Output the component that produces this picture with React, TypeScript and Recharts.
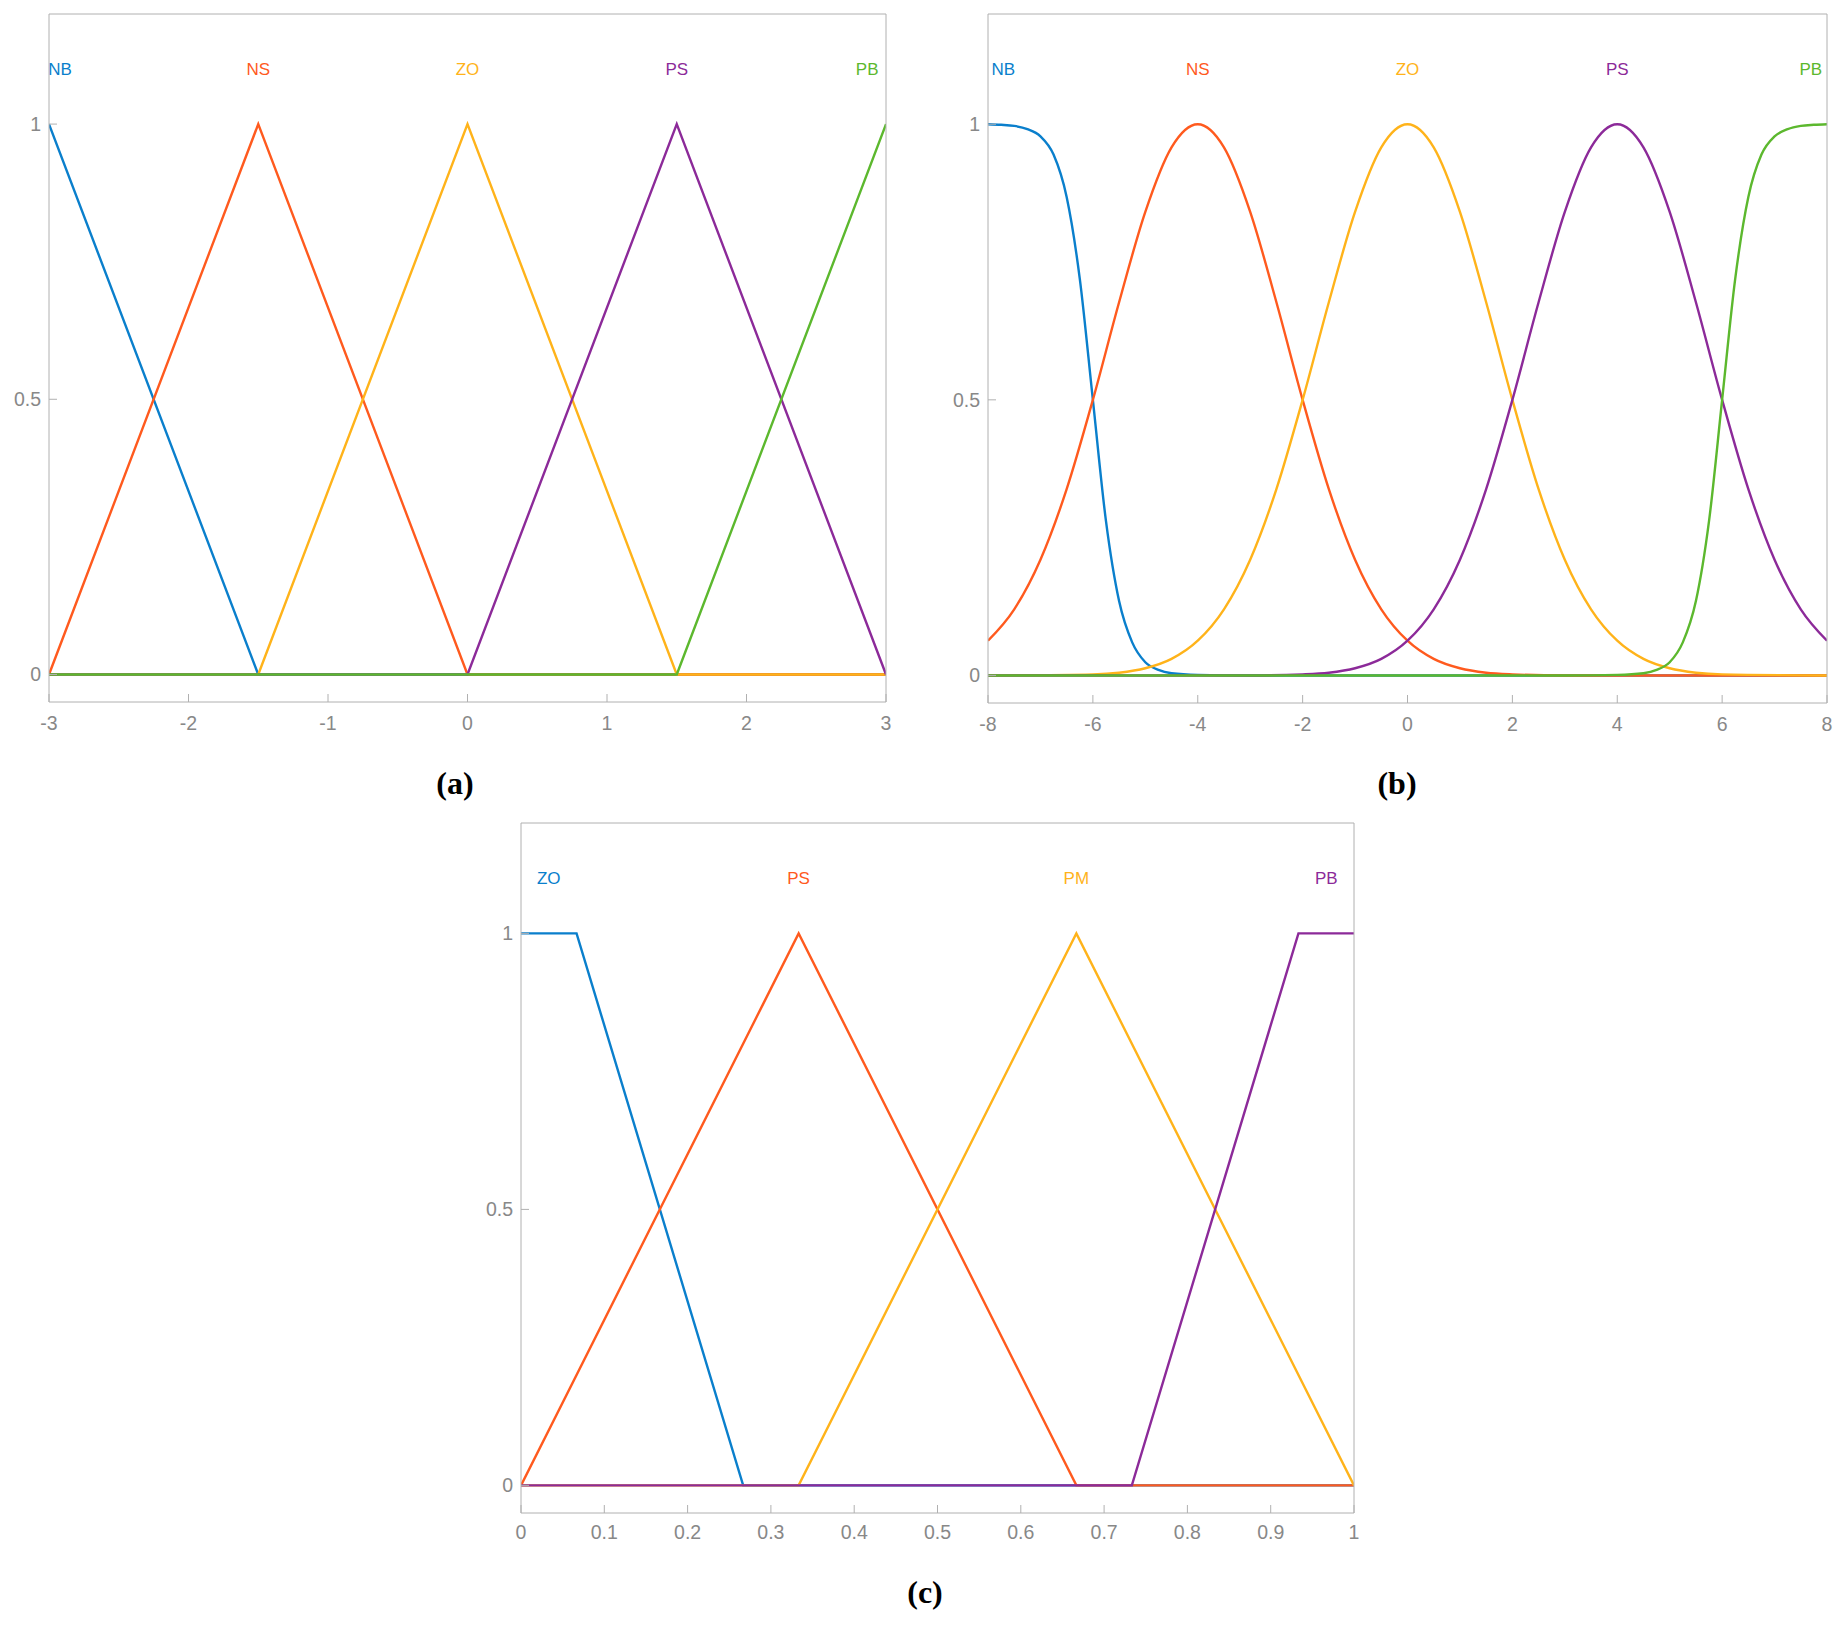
import { LineChart, Line, XAxis, YAxis, ReferenceDot } from 'recharts';

// panel (a): triangular sets on [-3, 3]
const aNames = ['NB', 'NS', 'ZO', 'PS', 'PB'];
const aNB = [[-3, 1], [-1.5, 0], [3, 0]];
const aNS = [[-3, 0], [-1.5, 1], [0, 0], [3, 0]];
const aZO = [[-3, 0], [-1.5, 0], [0, 1], [1.5, 0], [3, 0]];
const aPS = [[-3, 0], [0, 0], [1.5, 1], [3, 0]];
const aPB = [[-3, 0], [1.5, 0], [3, 1]];
const aLabelX = [-2.92, -1.5, 0, 1.5, 2.865];
const aTicks = [-3, -2, -1, 0, 1, 2, 3];

// panel (b): smooth sets on [-8, 8]
const bNames = ['NB', 'NS', 'ZO', 'PS', 'PB'];
const bNB = [[-8, 1], [-7.75, 0.999], [-7.5, 0.997], [-7.25, 0.991], [-7, 0.978], [-6.75, 0.945], [-6.5, 0.868], [-6.25, 0.72], [-6, 0.5], [-5.75, 0.28], [-5.5, 0.135], [-5.25, 0.06], [-5, 0.024], [-4.75, 0.01], [-4.5, 0.004], [-4, 0.001], [-3, 0], [8, 0]];
const bNS = [[-8, 0.063], [-7.5, 0.12], [-7, 0.21], [-6.5, 0.338], [-6, 0.5], [-5.5, 0.677], [-5, 0.841], [-4.5, 0.958], [-4, 1], [-3.5, 0.958], [-3, 0.841], [-2.5, 0.677], [-2, 0.5], [-1.5, 0.338], [-1, 0.21], [-0.5, 0.12], [0, 0.063], [0.5, 0.03], [1, 0.013], [1.5, 0.005], [2, 0.002], [3, 0], [8, 0]];
const bZO = [[-8, 0], [-6, 0.002], [-5.5, 0.005], [-5, 0.013], [-4.5, 0.03], [-4, 0.063], [-3.5, 0.12], [-3, 0.21], [-2.5, 0.338], [-2, 0.5], [-1.5, 0.677], [-1, 0.841], [-0.5, 0.958], [0, 1], [0.5, 0.958], [1, 0.841], [1.5, 0.677], [2, 0.5], [2.5, 0.338], [3, 0.21], [3.5, 0.12], [4, 0.063], [4.5, 0.03], [5, 0.013], [5.5, 0.005], [6, 0.002], [8, 0]];
const bPS = [[-8, 0], [-3, 0], [-2, 0.002], [-1.5, 0.005], [-1, 0.013], [-0.5, 0.03], [0, 0.063], [0.5, 0.12], [1, 0.21], [1.5, 0.338], [2, 0.5], [2.5, 0.677], [3, 0.841], [3.5, 0.958], [4, 1], [4.5, 0.958], [5, 0.841], [5.5, 0.677], [6, 0.5], [6.5, 0.338], [7, 0.21], [7.5, 0.12], [8, 0.063]];
const bPB = [[-8, 0], [3, 0], [4, 0.001], [4.5, 0.004], [4.75, 0.01], [5, 0.024], [5.25, 0.06], [5.5, 0.135], [5.75, 0.28], [6, 0.5], [6.25, 0.72], [6.5, 0.868], [6.75, 0.945], [7, 0.978], [7.25, 0.991], [7.5, 0.997], [7.75, 0.999], [8, 1]];
const bLabelX = [-7.71, -4, 0, 4, 7.69];
const bTicks = [-8, -6, -4, -2, 0, 2, 4, 6, 8];

// panel (c): trapezoid/triangle sets on [0, 1]
const cNames = ['ZO', 'PS', 'PM', 'PB'];
const cZO = [[0, 1], [0.0667, 1], [0.2667, 0], [1, 0]];
const cPS = [[0, 0], [0.3333, 1], [0.6667, 0], [1, 0]];
const cPM = [[0, 0], [0.3333, 0], [0.6667, 1], [1, 0]];
const cPB = [[0, 0], [0.7333, 0], [0.9333, 1], [1, 1]];
const cLabelX = [0.0333, 0.3333, 0.6667, 0.9667];
const cTicks = [0, 0.1, 0.2, 0.3, 0.4, 0.5, 0.6, 0.7, 0.8, 0.9, 1];

const yTicks = [0, 0.5, 1];
const labelY = 1.1;

const COLORS = ['#0a7fcc', '#ff5a1e', '#ffb31a', '#8c2a99', '#5cb82e'];
const AXIS = '#b0b0b0';
const TEXT = '#888888';
// plot area sits 60px from the left and 10px from the top of each svg
const M = { top: 10, right: 20, bottom: 10, left: 10 };
const Y_W = 50;
const X_H = 40;
const TICK_FONT = 19.5;

const toPts = (arr: number[][]) => arr.map(([x, y]) => ({ x, y }));

interface PanelProps {
  left: number;
  top: number;
  plotW: number;
  plotH: number;
  domain: [number, number];
  ticks: number[];
  series: number[][][];
  names: string[];
  labelX: number[];
  colors: string[];
  curve: 'linear' | 'monotone';
  xTickMargin: number;
}

function Panel({ left, top, plotW, plotH, domain, ticks, series, names, labelX, colors, curve, xTickMargin }: PanelProps) {
  return (
    <div style={{ position: 'absolute', left: left - M.left - Y_W, top: top - M.top }}>
      <LineChart width={plotW + M.left + Y_W + M.right} height={plotH + M.top + X_H + M.bottom} margin={M}>
        <XAxis
          dataKey="x"
          type="number"
          domain={domain}
          ticks={ticks}
          interval={0}
          height={X_H}
          tickSize={-8}
          tickMargin={xTickMargin}
          axisLine={{ stroke: AXIS }}
          tickLine={{ stroke: AXIS }}
          tick={{ fill: TEXT, fontSize: TICK_FONT }}
          allowDataOverflow
        />
        <XAxis
          xAxisId="top"
          orientation="top"
          type="number"
          domain={domain}
          ticks={ticks}
          interval={0}
          height={10}
          mirror
          tick={false}
          tickSize={8}
          axisLine={{ stroke: AXIS }}
          tickLine={{ stroke: AXIS }}
          allowDataOverflow
        />
        <YAxis
          type="number"
          domain={[-0.05, 1.2]}
          ticks={yTicks}
          interval={0}
          width={Y_W}
          tickSize={-8}
          tickMargin={16}
          axisLine={{ stroke: AXIS }}
          tickLine={{ stroke: AXIS }}
          tick={{ fill: TEXT, fontSize: TICK_FONT }}
          allowDataOverflow
        />
        <YAxis
          yAxisId="right"
          orientation="right"
          type="number"
          domain={[-0.05, 1.2]}
          ticks={yTicks}
          interval={0}
          width={10}
          mirror
          tick={false}
          tickSize={8}
          axisLine={{ stroke: AXIS }}
          tickLine={{ stroke: AXIS }}
          allowDataOverflow
        />
        {series.map((s, i) => (
          <Line
            key={names[i]}
            data={toPts(s)}
            dataKey="y"
            type={curve}
            stroke={colors[i]}
            strokeWidth={2.4}
            dot={false}
            activeDot={false}
            isAnimationActive={false}
          />
        ))}
        {names.map((n, i) => (
          <ReferenceDot
            key={'lbl' + n}
            x={labelX[i]}
            y={labelY}
            r={0}
            fill="none"
            stroke="none"
            shape={(p: any) => (
              <text x={p.cx} y={p.cy} dy="0.36em" textAnchor="middle" fill={colors[i]} fontSize={17}>
                {n}
              </text>
            )}
          />
        ))}
      </LineChart>
    </div>
  );
}

const titleStyle = (cx: number, cy: number): React.CSSProperties => ({
  position: 'absolute',
  left: cx - 60,
  top: cy - 19,
  width: 120,
  lineHeight: '38px',
  textAlign: 'center',
  fontFamily: "'Liberation Serif', 'Times New Roman', serif",
  fontWeight: 'bold',
  fontSize: 32,
  color: '#000',
});

export default function App() {
  return (
    <div
      style={{
        position: 'absolute',
        left: 0,
        top: 0,
        width: 1845,
        height: 1625,
        background: '#fff',
        fontFamily: "'Liberation Sans', Arial, sans-serif",
      }}
    >
      <Panel
        left={49}
        top={14}
        plotW={837}
        plotH={688}
        domain={[-3, 3]}
        ticks={aTicks}
        series={[aNB, aNS, aZO, aPS, aPB]}
        names={aNames}
        labelX={aLabelX}
        colors={COLORS}
        curve="linear"
        xTickMargin={22}
      />
      <Panel
        left={988}
        top={14}
        plotW={839}
        plotH={689}
        domain={[-8, 8]}
        ticks={bTicks}
        series={[bNB, bNS, bZO, bPS, bPB]}
        names={bNames}
        labelX={bLabelX}
        colors={COLORS}
        curve="monotone"
        xTickMargin={22}
      />
      <Panel
        left={521}
        top={823}
        plotW={833}
        plotH={690}
        domain={[0, 1]}
        ticks={cTicks}
        series={[cZO, cPS, cPM, cPB]}
        names={cNames}
        labelX={cLabelX}
        colors={[COLORS[0], COLORS[1], COLORS[2], COLORS[3]]}
        curve="linear"
        xTickMargin={20}
      />
      <div style={titleStyle(455, 783)}>(a)</div>
      <div style={titleStyle(1397, 783)}>(b)</div>
      <div style={titleStyle(925, 1592)}>(c)</div>
    </div>
  );
}
